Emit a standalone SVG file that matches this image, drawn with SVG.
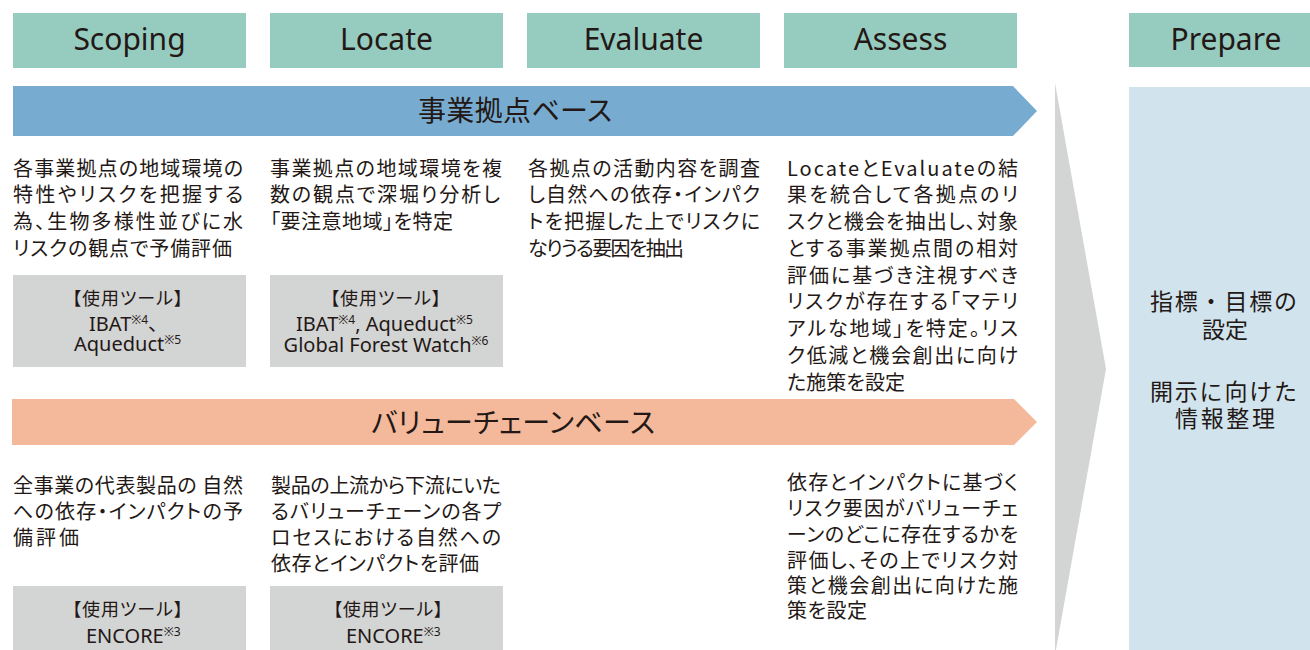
<svg xmlns="http://www.w3.org/2000/svg" width="1310" height="650" viewBox="0 0 1310 650">
<style>
.hdr{fill:#96cbbf}
.hdrt{font-family:"Noto Sans","Noto Sans CJK JP",sans-serif;font-size:30px;fill:#231815;text-anchor:middle}
.band-t{font-family:"Noto Sans CJK JP",sans-serif;font-size:28px;fill:#231815;font-feature-settings:"palt"}
.body{font-family:"Noto Sans CJK JP",sans-serif;font-size:20px;fill:#231815;font-feature-settings:"palt"}
.tool{fill:#d3d4d4}
.toolj{font-family:"Noto Sans CJK JP",sans-serif;font-size:18px;fill:#231815;font-feature-settings:"palt"}
.toolt{font-family:"Noto Sans","Noto Sans CJK JP",sans-serif;font-size:20px;fill:#231815;font-feature-settings:"palt"}
.sup{font-size:12px}
.pan{font-family:"Noto Sans CJK JP",sans-serif;font-size:23px;fill:#231815}
</style>
<rect width="1310" height="650" fill="#ffffff"/>

<g id="connectors">
  <polygon id="flow-arrow" points="1055,83 1106,369 1055,655" fill="#d3d4d4"/>
</g>

<g id="hdr-scoping"><rect class="hdr" x="13" y="13" width="233" height="55"/><text class="hdrt" x="129.5" y="50">Scoping</text></g>
<g id="hdr-locate"><rect class="hdr" x="270" y="13" width="233" height="55"/><text class="hdrt" x="386.5" y="50">Locate</text></g>
<g id="hdr-evaluate"><rect class="hdr" x="527" y="13" width="233" height="55"/><text class="hdrt" x="643.5" y="50">Evaluate</text></g>
<g id="hdr-assess"><rect class="hdr" x="784" y="13" width="233" height="55"/><text class="hdrt" x="900.5" y="50">Assess</text></g>
<g id="hdr-prepare"><rect class="hdr" x="1129" y="13" width="181" height="54"/><text class="hdrt" x="1226" y="50">Prepare</text></g>

<g id="band-site">
  <polygon points="13,86 1013,86 1037,111 1013,136 13,136" fill="#77acd0"/>
  <text class="band-t" x="418" y="120.5" textLength="194" lengthAdjust="spacing">事業拠点ベース</text>
</g>
<g id="band-value">
  <polygon points="12,399 1014,399 1037,422 1014,445 12,445" fill="#f4b99b"/>
  <text class="band-t" x="371" y="432.5" textLength="284" lengthAdjust="spacing">バリューチェーンベース</text>
</g>

<g id="panel-prepare">
  <rect x="1129" y="87" width="181" height="563" fill="#d1e4ee"/>
  <text class="pan" x="1150" y="310" textLength="147" lengthAdjust="spacing">指標・目標の</text>
  <text class="pan" x="1202" y="338" textLength="46" lengthAdjust="spacing">設定</text>
  <text class="pan" x="1150" y="400" textLength="147" lengthAdjust="spacing">開示に向けた</text>
  <text class="pan" x="1175" y="427" textLength="100" lengthAdjust="spacing">情報整理</text>
</g>

<g id="txt-scoping-site">
  <text class="body" x="13" y="175.5" textLength="230" lengthAdjust="spacing">各事業拠点の地域環境の</text>
  <text class="body" x="13" y="202.25" textLength="230" lengthAdjust="spacing">特性やリスクを把握する</text>
  <text class="body" x="13" y="229" textLength="230" lengthAdjust="spacing">為、生物多様性並びに水</text>
  <text class="body" x="13" y="255.75" textLength="219" lengthAdjust="spacing">リスクの観点で予備評価</text>
</g>
<g id="txt-locate-site">
  <text class="body" x="270" y="175.5" textLength="232" lengthAdjust="spacing">事業拠点の地域環境を複</text>
  <text class="body" x="270" y="202.25" textLength="230" lengthAdjust="spacing">数の観点で深堀り分析し</text>
  <text class="body" x="270" y="229" textLength="183" lengthAdjust="spacing">「要注意地域」を特定</text>
</g>
<g id="txt-evaluate-site">
  <text class="body" x="528" y="175.5" textLength="232" lengthAdjust="spacing">各拠点の活動内容を調査</text>
  <text class="body" x="528" y="202.25" textLength="232" lengthAdjust="spacing">し自然への依存・インパク</text>
  <text class="body" x="528" y="229" textLength="232" lengthAdjust="spacing">トを把握した上でリスクに</text>
  <text class="body" x="528" y="255.75" textLength="156" lengthAdjust="spacing">なりうる要因を抽出</text>
</g>
<g id="txt-assess-site">
  <text class="body" x="787" y="175.5" textLength="231" lengthAdjust="spacing">LocateとEvaluateの結</text>
  <text class="body" x="787" y="202.25" textLength="231" lengthAdjust="spacing">果を統合して各拠点のリ</text>
  <text class="body" x="787" y="229" textLength="231" lengthAdjust="spacing">スクと機会を抽出し、対象</text>
  <text class="body" x="787" y="255.75" textLength="231" lengthAdjust="spacing">とする事業拠点間の相対</text>
  <text class="body" x="787" y="282.5" textLength="231" lengthAdjust="spacing">評価に基づき注視すべき</text>
  <text class="body" x="787" y="309.25" textLength="231" lengthAdjust="spacing">リスクが存在する「マテリ</text>
  <text class="body" x="787" y="336" textLength="231" lengthAdjust="spacing">アルな地域」を特定。リス</text>
  <text class="body" x="787" y="362.75" textLength="231" lengthAdjust="spacing">ク低減と機会創出に向け</text>
  <text class="body" x="787" y="389.5" textLength="118" lengthAdjust="spacing">た施策を設定</text>
</g>

<g id="tool-scoping-site">
  <rect class="tool" x="13" y="275" width="233" height="92"/>
  <text class="toolj" x="72" y="305" textLength="111" lengthAdjust="spacing">【使用ツール】</text>
  <text class="toolt" x="89" y="331">IBAT<tspan class="sup" dy="-7">※4</tspan><tspan dy="7">、</tspan></text>
  <text class="toolt" x="74" y="351">Aqueduct<tspan class="sup" dy="-7">※5</tspan></text>
</g>
<g id="tool-locate-site">
  <rect class="tool" x="270" y="275" width="233" height="92"/>
  <text class="toolj" x="330" y="305" textLength="111" lengthAdjust="spacing">【使用ツール】</text>
  <text class="toolt" x="296" y="331">IBAT<tspan class="sup" dy="-7">※4</tspan><tspan dy="7">, Aqueduct</tspan><tspan class="sup" dy="-7">※5</tspan></text>
  <text class="toolt" x="386" y="352" text-anchor="middle">Global Forest Watch<tspan class="sup" dy="-7">※6</tspan></text>
</g>

<g id="txt-scoping-value">
  <text class="body" x="13" y="492.5" textLength="230" lengthAdjust="spacing">全事業の代表製品の 自然</text>
  <text class="body" x="13" y="519" textLength="230" lengthAdjust="spacing">への依存・インパクトの予</text>
  <text class="body" x="13" y="545" textLength="66" lengthAdjust="spacing">備評価</text>
</g>
<g id="txt-locate-value">
  <text class="body" x="271" y="492.5" textLength="230" lengthAdjust="spacing">製品の上流から下流にいた</text>
  <text class="body" x="271" y="519" textLength="230" lengthAdjust="spacing">るバリューチェーンの各プ</text>
  <text class="body" x="271" y="545" textLength="230" lengthAdjust="spacing">ロセスにおける自然への</text>
  <text class="body" x="271" y="571" textLength="208" lengthAdjust="spacing">依存とインパクトを評価</text>
</g>
<g id="txt-assess-value">
  <text class="body" x="787" y="489.5" textLength="231" lengthAdjust="spacing">依存とインパクトに基づく</text>
  <text class="body" x="787" y="515.5" textLength="231" lengthAdjust="spacing">リスク要因がバリューチェ</text>
  <text class="body" x="787" y="542" textLength="231" lengthAdjust="spacing">ーンのどこに存在するかを</text>
  <text class="body" x="787" y="567.5" textLength="231" lengthAdjust="spacing">評価し、その上でリスク対</text>
  <text class="body" x="787" y="593" textLength="231" lengthAdjust="spacing">策と機会創出に向けた施</text>
  <text class="body" x="787" y="617.5" textLength="80" lengthAdjust="spacing">策を設定</text>
</g>

<g id="tool-scoping-value">
  <rect class="tool" x="13" y="586" width="233" height="70"/>
  <text class="toolj" x="72" y="616" textLength="111" lengthAdjust="spacing">【使用ツール】</text>
  <text class="toolt" x="86" y="643">ENCORE<tspan class="sup" dy="-7">※3</tspan></text>
</g>
<g id="tool-locate-value">
  <rect class="tool" x="270" y="586" width="233" height="70"/>
  <text class="toolj" x="333" y="616" textLength="110" lengthAdjust="spacing">【使用ツール】</text>
  <text class="toolt" x="346" y="643">ENCORE<tspan class="sup" dy="-7">※3</tspan></text>
</g>
</svg>
